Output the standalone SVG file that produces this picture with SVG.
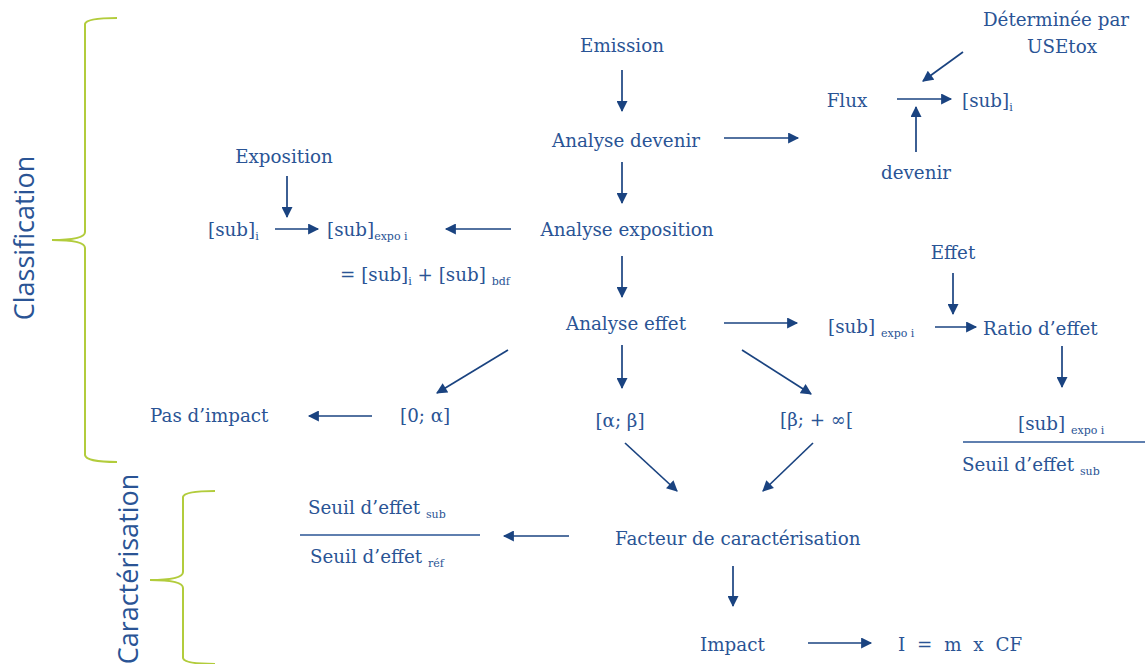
<svg xmlns="http://www.w3.org/2000/svg" width="1145" height="664" viewBox="0 0 1145 664">
<style>
text{font-family:"DejaVu Serif","Liberation Serif",serif;font-size:18.3px;fill:#2A5495}
.m{text-anchor:middle}
.s{font-size:11px}
.side{font-family:"Open Sans","DejaVu Sans",sans-serif;font-size:27px;fill:#2A5495;text-anchor:middle}
.c line{stroke:#1A4380;stroke-width:1.7;marker-end:url(#ah)}
.brace{fill:none;stroke:#B2CC3C;stroke-width:2}
.bar{stroke:#2A5495;stroke-width:1.4}
</style>
<defs>
<marker id="ah" viewBox="0 0 10 10" refX="9" refY="5" markerWidth="12" markerHeight="11" markerUnits="userSpaceOnUse" orient="auto">
<path d="M0,0 L10,5 L0,10 z" fill="#1A4380"/>
</marker>
</defs>
<rect width="1145" height="664" fill="#fff"/>
<g id="braces">
<path class="brace" d="M117,18 Q86,18 85,24 L85,232 Q85,240 52,240 Q85,240 85,248 L85,455 Q86,462 117,462"/>
<path class="brace" d="M215,491 Q184,491 183,497 L183,572 Q183,580 150,580 Q183,580 183,588 L183,658 Q184,664 215,664"/>
</g>
<g id="labels">
<text class="side" transform="translate(34,238) rotate(-90)">Classification</text>
<text class="side" transform="translate(138,569) rotate(-90)">Caractérisation</text>
</g>
<g class="c" id="connectors">
<line x1="622" y1="70" x2="622" y2="111"/>
<line x1="724" y1="138" x2="798" y2="138"/>
<line x1="897" y1="99" x2="951" y2="99"/>
<line x1="963" y1="52" x2="923" y2="81"/>
<line x1="916" y1="152" x2="916" y2="107"/>
<line x1="622" y1="162" x2="622" y2="203"/>
<line x1="511" y1="229" x2="446" y2="229"/>
<line x1="275" y1="229" x2="318" y2="229"/>
<line x1="287" y1="176" x2="287" y2="217"/>
<line x1="622" y1="256" x2="622" y2="297"/>
<line x1="724" y1="323" x2="797" y2="323"/>
<line x1="935" y1="327" x2="976" y2="327"/>
<line x1="953" y1="273" x2="953" y2="314"/>
<line x1="1062" y1="346" x2="1062" y2="387"/>
<line x1="508" y1="350" x2="437" y2="393"/>
<line x1="622" y1="345" x2="622" y2="388"/>
<line x1="742" y1="350" x2="811" y2="394"/>
<line x1="372" y1="416" x2="309" y2="416"/>
<line x1="625" y1="443" x2="677" y2="491"/>
<line x1="813" y1="443" x2="763" y2="491"/>
<line x1="569" y1="536" x2="504" y2="536"/>
<line x1="733" y1="566" x2="733" y2="606"/>
<line x1="808" y1="643" x2="871" y2="643"/>
</g>
<g id="emission"><text class="m" x="622" y="52">Emission</text></g>
<g id="analyse-devenir"><text class="m" x="626" y="147">Analyse devenir</text></g>
<g id="flux"><text class="m" x="847" y="107">Flux</text></g>
<g id="sub-i-top"><text x="962" y="107">[sub]<tspan class="s" dy="4">i</tspan></text></g>
<g id="determinee"><text class="m" x="1056" y="26">Déterminée par</text><text class="m" x="1062" y="53">USEtox</text></g>
<g id="devenir"><text class="m" x="916" y="179">devenir</text></g>
<g id="analyse-exposition"><text class="m" x="627" y="236">Analyse exposition</text></g>
<g id="exposition"><text class="m" x="284" y="163">Exposition</text></g>
<g id="sub-i-left"><text x="208" y="236">[sub]<tspan class="s" dy="4">i</tspan></text></g>
<g id="sub-expo"><text x="327" y="236">[sub]<tspan class="s" dy="4">expo i</tspan></text></g>
<g id="sum"><text x="340" y="281">= [sub]<tspan class="s" dy="4">i</tspan><tspan dy="-4"> + [sub] </tspan><tspan class="s" dy="4">bdf</tspan></text></g>
<g id="analyse-effet"><text class="m" x="626" y="330">Analyse effet</text></g>
<g id="sub-expo-2"><text x="828" y="333">[sub] <tspan class="s" dy="4">expo i</tspan></text></g>
<g id="effet"><text class="m" x="953" y="259">Effet</text></g>
<g id="ratio"><text x="983" y="335">Ratio d’effet</text></g>
<g id="frac-right">
<text x="1018" y="430">[sub] <tspan class="s" dy="4">expo i</tspan></text>
<line class="bar" x1="963" y1="442" x2="1145" y2="442"/>
<text x="962" y="471">Seuil d’effet <tspan class="s" dy="4">sub</tspan></text>
</g>
<g id="pas-impact"><text x="150" y="422">Pas d’impact</text></g>
<g id="r1"><text x="400" y="422">[0; α]</text></g>
<g id="r2"><text class="m" x="620" y="427">[α; β]</text></g>
<g id="r3"><text x="780" y="426">[β; + ∞[</text></g>
<g id="facteur"><text x="615" y="545">Facteur de caractérisation</text></g>
<g id="frac-left">
<text x="308" y="514">Seuil d’effet <tspan class="s" dy="4">sub</tspan></text>
<line class="bar" x1="300" y1="535" x2="480" y2="535"/>
<text x="310" y="563">Seuil d’effet <tspan class="s" dy="4">réf</tspan></text>
</g>
<g id="impact"><text x="700" y="651">Impact</text></g>
<g id="formula"><text x="898" y="651" style="word-spacing:6px">I = m x CF</text></g>
</svg>
